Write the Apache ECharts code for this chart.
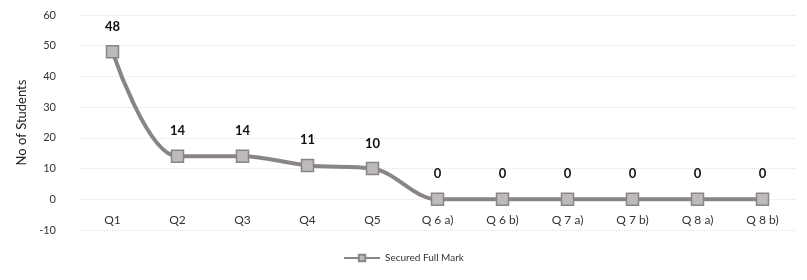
<!DOCTYPE html>
<html>
<head>
<meta charset="utf-8">
<script src="https://cdn.jsdelivr.net/npm/echarts@6/dist/echarts.min.js"></script>
<style>
	html, body { margin: 0; padding: 0; background: #fff; }
	#chart { width: 807px; height: 280px; }
</style>
</head>
<body>
<div id="chart"></div>
<script>
	const questions = ['Q1', 'Q2', 'Q3', 'Q4', 'Q5', 'Q 6 a)', 'Q 6 b)', 'Q 7 a)', 'Q 7 b)', 'Q 8 a)', 'Q 8 b)']
	const fullMarks = [48, 14, 14, 11, 10, 0, 0, 0, 0, 0, 0]

	let chart = echarts.init(document.getElementById('chart'))
	chart.setOption({
		textStyle: { fontFamily: 'Lato, sans-serif' },
		grid: { left: 80, right: 12, top: 15, bottom: 50 },
		legend: {
			bottom: 12,
			left: 'center',
			data: ['Secured Full Mark'],
			itemWidth: 36,
			itemHeight: 8,
			textStyle: { fontSize: 10, color: '#333' }
		},
		xAxis: {
			type: 'category',
			data: questions,
			// labels sit just under the zero line, like the excel chart
			offset: -31,
			axisLine: { show: false },
			axisTick: { show: false },
			axisLabel: { color: '#333', fontSize: 12, margin: 15 }
		},
		yAxis: {
			type: 'value',
			min: -10,
			max: 60,
			interval: 10,
			name: 'No of Students',
			nameLocation: 'middle',
			nameGap: 32,
			nameTextStyle: { fontSize: 13, color: '#222' },
			axisLabel: { color: '#333', fontSize: 11, margin: 24 },
			splitLine: { lineStyle: { color: '#e2e2e2', type: 'dotted' } }
		},
		series: [{
			name: 'Secured Full Mark',
			type: 'line',
			smooth: 0.35,
			data: fullMarks,
			symbol: 'rect',
			symbolSize: 12,
			lineStyle: { color: '#8a8585', width: 4 },
			itemStyle: { color: '#bdbaba', borderColor: '#8a8585', borderWidth: 1.5 },
			label: {
				show: true,
				position: 'top',
				distance: 12,
				fontWeight: 'bold',
				fontSize: 13,
				color: '#111'
			}
		}]
	})
</script>
</body>
</html>
